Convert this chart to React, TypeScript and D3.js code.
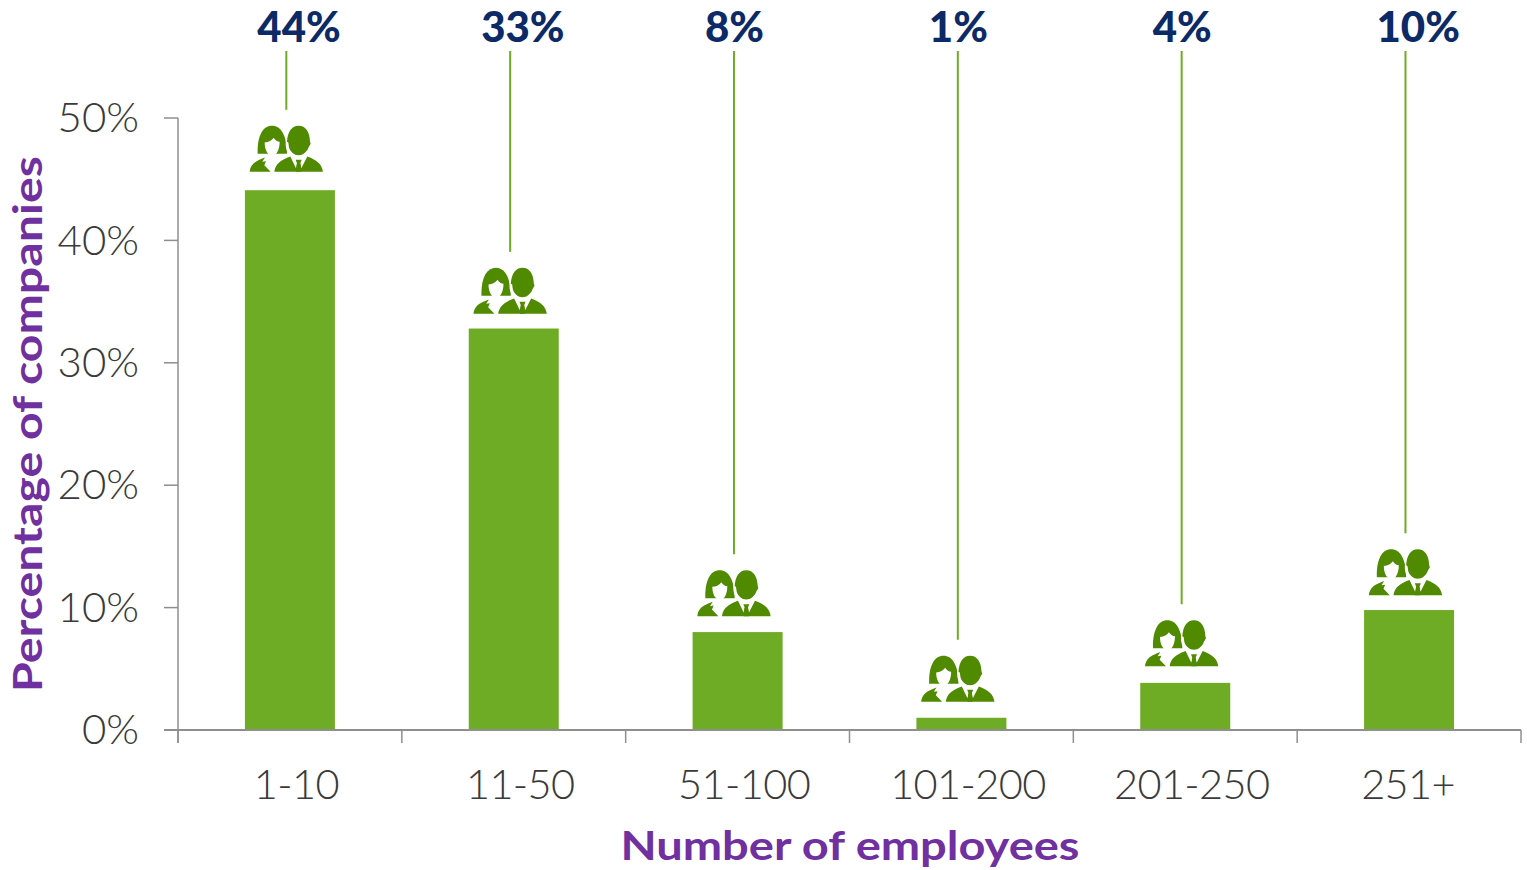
import React from "react";
import * as d3 from "d3";

const categories = ["1-10", "11-50", "51-100", "101-200", "201-250", "251+"];
const barValues = [44.1, 32.8, 8, 1, 3.85, 9.8];
const calloutLevels = [45.6, 34.0, 9.3, 2.3, 5.2, 11.0];
const topLabels = ["44%", "33%", "8%", "1%", "4%", "10%"];
const yTicks = [0, 10, 20, 30, 40, 50];
const xTitle = "Number of employees";
const yTitle = "Percentage of companies";

const FONT = "Lato, 'Open Sans', sans-serif";
const GREEN = "#6eac25";
const DARK = "#4f8a00";
const PURPLE = "#7030a0";
const NAVY = "#0b2a66";
const AXIS = "#8f8f8f";
const TEXT = "#3a3a3a";

const x = d3.scaleBand<string>().domain(categories).range([178, 1521]).paddingInner(0).paddingOuter(0);
const y = d3.scaleLinear().domain([0, 50]).range([730, 118]);
const BAR_W = 90;

function People({ cx, base }: { cx: number; base: number }) {
  return (
    <g transform={`translate(${cx},${base}) scale(${1 / 3}) translate(-168,-216)`}>
      {/* woman */}
      <path fill={DARK} d="M82,162 C80,108 98,78 125,78 C152,78 170,108 170,162 L140,162 L110,162 Z" />
      <path fill="#fff" d="M103,128 C115,128 125,122 130,114 C135,122 142,126 148,126 C148,150 138,168 126,168 C113,168 103,150 103,128 Z" />
      <path fill={DARK} d="M58,216 C60,192 78,182 104,173 L96,186 L107,184 L102,196 L121,216 Z" />
      {/* man */}
      <path fill="#fff" d="M166,130 C166,95 182,72 205,72 C230,72 248,95 248,130 C248,160 230,174 205,174 C180,174 166,160 166,130 Z" />
      <path fill={DARK} d="M174,128 L170,126 C172,96 184,78 205,78 C226,78 238,96 239,124 L241,132 L235,142 C230,156 218,166 205,166 C192,166 180,156 176,142 Z" />
      <path fill={DARK} d="M132,216 C135,192 152,180 180,170 L197,205 L200,190 L196,180 L214,180 L210,190 L213,205 L231,170 C258,180 275,192 278,216 Z" />
      <path fill={DARK} d="M200,190 L210,190 L213,216 L197,216 Z" />
    </g>
  );
}

export default function App() {
  return (
    <svg width={1527} height={870} style={{ position: "absolute", left: 0, top: 0, background: "#fff" }} fontFamily={FONT}>
      {/* bars */}
      {categories.map((c, i) => (
        <rect key={c} x={x(c)! + x.bandwidth() / 2 - BAR_W / 2} y={y(barValues[i])} width={BAR_W}
          height={y(0) - y(barValues[i])} fill={GREEN} />
      ))}
      {/* axes */}
      <line x1={178} x2={178} y1={y(50)} y2={743} stroke={AXIS} strokeWidth={1.5} />
      <line x1={164} x2={1521} y1={y(0)} y2={y(0)} stroke={AXIS} strokeWidth={2} />
      {yTicks.map((t) => (
        <g key={t}>
          <line x1={164} x2={178} y1={y(t)} y2={y(t)} stroke={AXIS} strokeWidth={1.5} />
          <text x={139} y={y(t) - 1} dy="0.36em" textAnchor="end" fontSize={42} fontWeight={300} fill={TEXT}>{t}%</text>
        </g>
      ))}
      {[...categories.map((c) => x(c)!), 1521].map((p) => (
        <line key={p} x1={p} x2={p} y1={y(0)} y2={743} stroke={AXIS} strokeWidth={1.5} />
      ))}
      {categories.map((c, i) => (
        <text key={c} x={x(c)! + x.bandwidth() / 2 + (i === categories.length - 1 ? -1 : 6.5)} y={799} textAnchor="middle"
          fontSize={41.5} letterSpacing={-0.6} fontWeight={300} fill={TEXT}>{c}</text>
      ))}
      {/* callouts */}
      {categories.map((c, i) => {
        const cx = x(c)! + x.bandwidth() / 2 - 3.6;
        const base = y(calloutLevels[i]);
        return (
          <g key={c}>
            <line x1={cx} x2={cx} y1={51} y2={base - 62} stroke={GREEN} strokeWidth={2} />
            <People cx={cx} base={base} />
            <text x={cx - 29} y={42} textAnchor="start" fontSize={42} fontWeight={900} fill={NAVY}>{topLabels[i]}</text>
          </g>
        );
      })}
      {/* titles */}
      <text x={850} y={860} textAnchor="middle" fontSize={41} fontWeight={700} fill={PURPLE}
        textLength={459} lengthAdjust="spacingAndGlyphs">{xTitle}</text>
      <text transform="translate(42,424) rotate(-90)" textAnchor="middle" fontSize={41} fontWeight={700} fill={PURPLE}
        textLength={536} lengthAdjust="spacingAndGlyphs">{yTitle}</text>
    </svg>
  );
}
